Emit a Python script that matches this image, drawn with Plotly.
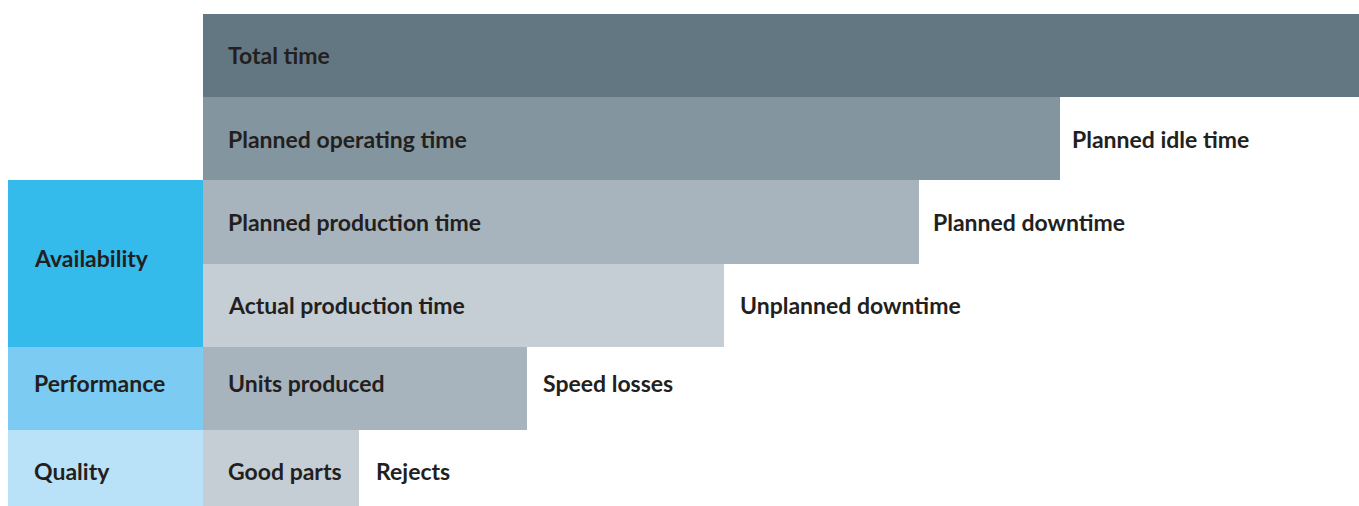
import plotly.graph_objects as go

# ---- data ----
stages = ["Total time", "Planned operating time", "Planned production time",
          "Actual production time", "Units produced", "Good parts"]
stage_values = [100, 74.1, 61.9, 45.1, 28.0, 13.5]
losses = ["", "Planned idle time", "Planned downtime", "Unplanned downtime",
          "Speed losses", "Rejects"]
metrics = ["Availability", "Performance", "Quality"]
metric_first_row = [2, 4, 5]
metric_last_row = [3, 4, 5]

# ---- styles ----
stage_colors = ["#637782", "#83959E", "#A7B4BD", "#C5CED5", "#A7B4BD", "#C5CED5"]
metric_colors = ["#35BBEB", "#7BCBF2", "#B9E2F8"]
text_color = "#231F20"
FONT = "Lato"
FS = 23
BOX_W = 16.87  # width of left metric boxes in axis units
XMIN = -17.56
Y_RANGE = [5.413, -0.668]
loss_xshift = [0, 10, 12, 14, 14, 15]

rows = list(range(len(stages)))

fig = go.Figure()
fig.add_trace(go.Bar(
    orientation="h", y=rows, x=stage_values, width=1,
    marker=dict(color=stage_colors, line=dict(width=0)),
    hoverinfo="skip", showlegend=False))

m_y = [(a + b) / 2 for a, b in zip(metric_first_row, metric_last_row)]
m_w = [b - a + 1 for a, b in zip(metric_first_row, metric_last_row)]
fig.add_trace(go.Bar(
    orientation="h", y=m_y, x=[BOX_W] * len(metrics), base=-BOX_W, width=m_w,
    marker=dict(color=metric_colors, line=dict(width=0)),
    hoverinfo="skip", showlegend=False))

font = dict(family=FONT, size=FS, color=text_color, weight=700)
yshift_rows = {0: 1, 1: 0, 2: 0, 3: 0, 4: 5, 5: 1}
for i, (s, v, l) in enumerate(zip(stages, stage_values, losses)):
    ys = yshift_rows.get(i, 0)
    fig.add_annotation(x=0, y=i, text=s, showarrow=False, xanchor="left",
                       yanchor="middle", xshift=23, yshift=ys, font=font)
    if l:
        fig.add_annotation(x=v, y=i, text=l, showarrow=False, xanchor="left",
                           yanchor="middle", xshift=loss_xshift[i], yshift=ys,
                           font=font)

m_shift = [6, 5, 1]
for name, y, ys in zip(metrics, m_y, m_shift):
    fig.add_annotation(x=-BOX_W, y=y, text=name, showarrow=False, xanchor="left",
                       yanchor="middle", xshift=24, yshift=ys, font=font)

fig.update_layout(
    width=1359, height=506,
    margin=dict(l=0, r=0, t=0, b=0, pad=0),
    paper_bgcolor="white", plot_bgcolor="white",
    bargap=0, barmode="overlay",
    xaxis=dict(range=[XMIN, 100], visible=False, fixedrange=True),
    yaxis=dict(range=Y_RANGE, visible=False, fixedrange=True),
)

fig.write_html("out.html", config={"displayModeBar": False},
               post_script="document.body.style.margin='0';")
